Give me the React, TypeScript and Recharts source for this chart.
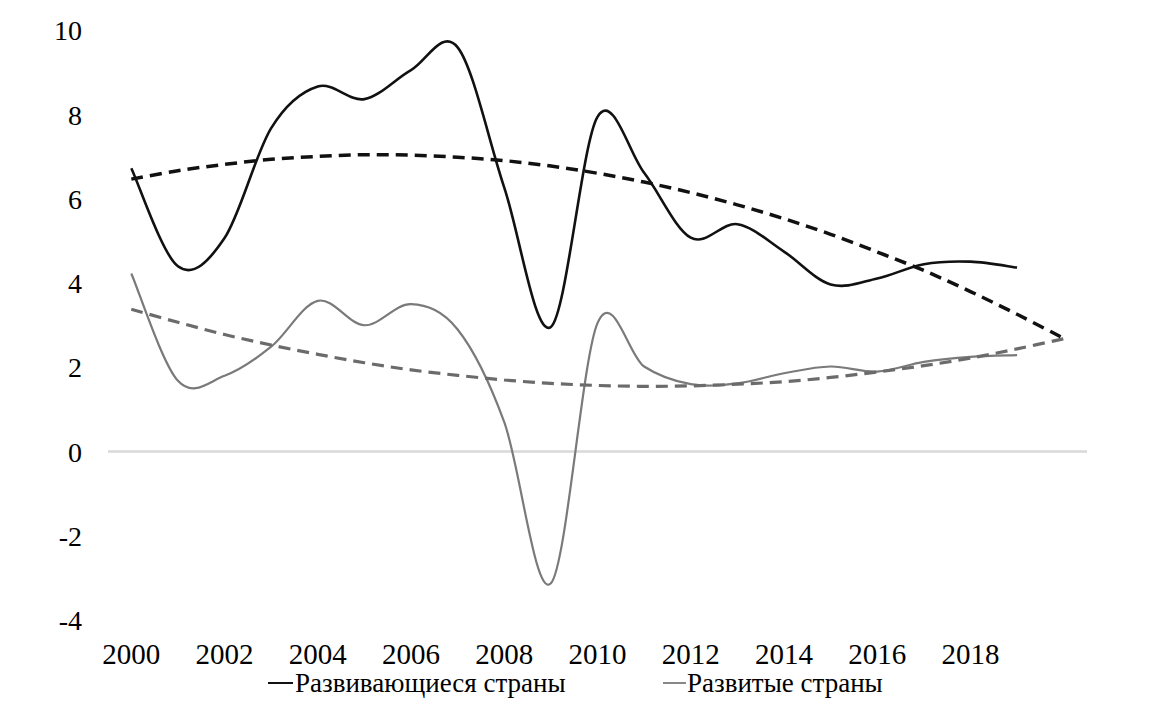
import { LineChart, Line, XAxis, YAxis, ReferenceLine } from "recharts";

const years = [
  2000, 2001, 2002, 2003, 2004, 2005, 2006, 2007, 2008, 2009, 2010, 2011,
  2012, 2013, 2014, 2015, 2016, 2017, 2018, 2019, 2020,
];

// Развивающиеся страны
const developing = [
  6.73, 4.4, 5.07, 7.68, 8.67, 8.37, 9.06, 9.6, 6.27, 2.96, 7.95, 6.62, 5.08,
  5.4, 4.75, 3.97, 4.11, 4.45, 4.51, 4.37,
];

// Развитые страны
const developed = [
  4.23, 1.68, 1.8, 2.49, 3.58, 3.0, 3.5, 2.9, 0.7, -3.13, 3.05, 2.02, 1.6, 1.62,
  1.86, 2.02, 1.9, 2.13, 2.25, 2.29,
];

// polynomial trend lines
const developingTrend = [
  6.47, 6.67, 6.82, 6.94, 7.01, 7.05, 7.04, 6.99, 6.91, 6.78, 6.61, 6.4, 6.15,
  5.86, 5.53, 5.16, 4.74, 4.3, 3.8, 3.26, 2.69,
];
const developedTrend = [
  3.38, 3.07, 2.78, 2.53, 2.31, 2.11, 1.94, 1.81, 1.7, 1.62, 1.57, 1.55, 1.56,
  1.6, 1.66, 1.76, 1.89, 2.04, 2.22, 2.44, 2.68,
];

const xTicks = [2000, 2002, 2004, 2006, 2008, 2010, 2012, 2014, 2016, 2018];
const yTicks = [-4, -2, 0, 2, 4, 6, 8, 10];

const data = years.map((year, i) => ({
  year,
  developing: developing[i],
  developed: developed[i],
  developingTrend: developingTrend[i],
  developedTrend: developedTrend[i],
}));

// Excel-like smoothing (Catmull-Rom through the points)
function smooth(context: any) {
  let pts: number[][] = [];
  return {
    areaStart() {},
    areaEnd() {},
    lineStart() {
      pts = [];
    },
    point(x: number, y: number) {
      pts.push([+x, +y]);
    },
    lineEnd() {
      const n = pts.length;
      if (!n) return;
      context.moveTo(pts[0][0], pts[0][1]);
      for (let i = 0; i < n - 1; i++) {
        const p0 = pts[i - 1] || pts[i];
        const p1 = pts[i];
        const p2 = pts[i + 1];
        const p3 = pts[i + 2] || p2;
        context.bezierCurveTo(
          p1[0] + (p2[0] - p0[0]) / 6,
          p1[1] + (p2[1] - p0[1]) / 6,
          p2[0] - (p3[0] - p1[0]) / 6,
          p2[1] - (p3[1] - p1[1]) / 6,
          p2[0],
          p2[1]
        );
      }
    },
  };
}

const font = '"Liberation Serif", "Times New Roman", serif';

export default function App() {
  return (
    <div
      style={{
        position: "absolute",
        left: 0,
        top: 0,
        width: 1149,
        height: 715,
        background: "#fff",
        fontFamily: font,
      }}
    >
      <LineChart
        width={1149}
        height={715}
        data={data}
        margin={{ top: 30.5, right: 62, bottom: 55, left: 0 }}
      >
        <XAxis
          dataKey="year"
          type="number"
          domain={[1999.5, 2020.5]}
          ticks={xTicks}
          axisLine={false}
          tickLine={false}
          tickSize={0}
          tickMargin={23}
          height={40}
          interval={0}
          tick={{ fontSize: 29, fill: "#000", fontFamily: font }}
        />
        <YAxis
          domain={[-4, 10]}
          ticks={yTicks}
          axisLine={false}
          tickLine={false}
          tickSize={0}
          tickMargin={26}
          width={108}
          interval={0}
          tick={{ fontSize: 28, fill: "#000", fontFamily: font }}
        />
        <ReferenceLine y={0} stroke="#d9d9d9" strokeWidth={2.5} />
        <Line
          dataKey="developed"
          type={smooth as any}
          stroke="#7a7a7a"
          strokeWidth={2.2}
          dot={false}
          isAnimationActive={false}
        />
        <Line
          dataKey="developing"
          type={smooth as any}
          stroke="#111"
          strokeWidth={2.6}
          dot={false}
          isAnimationActive={false}
        />
        <Line
          dataKey="developedTrend"
          type={smooth as any}
          stroke="#6b6b6b"
          strokeWidth={3.2}
          strokeDasharray="12 7"
          dot={false}
          isAnimationActive={false}
        />
        <Line
          dataKey="developingTrend"
          type={smooth as any}
          stroke="#111"
          strokeWidth={3.5}
          strokeDasharray="12 7"
          dot={false}
          isAnimationActive={false}
        />
      </LineChart>

      {/* legend */}
      <div
        style={{
          position: "absolute",
          left: 268,
          top: 668,
          fontSize: 27,
          lineHeight: "30px",
          color: "#000",
          display: "flex",
          alignItems: "center",
          whiteSpace: "nowrap",
        }}
      >
        <span style={{ display: "inline-block", width: 25, height: 2, background: "#111" }} />
        <span style={{ marginLeft: 2 }}>Развивающиеся страны</span>
      </div>
      <div
        style={{
          position: "absolute",
          left: 663,
          top: 668,
          fontSize: 27,
          lineHeight: "30px",
          color: "#000",
          display: "flex",
          alignItems: "center",
          whiteSpace: "nowrap",
        }}
      >
        <span style={{ display: "inline-block", width: 23, height: 2, background: "#888" }} />
        <span style={{ marginLeft: 1 }}>Развитые страны</span>
      </div>
    </div>
  );
}
